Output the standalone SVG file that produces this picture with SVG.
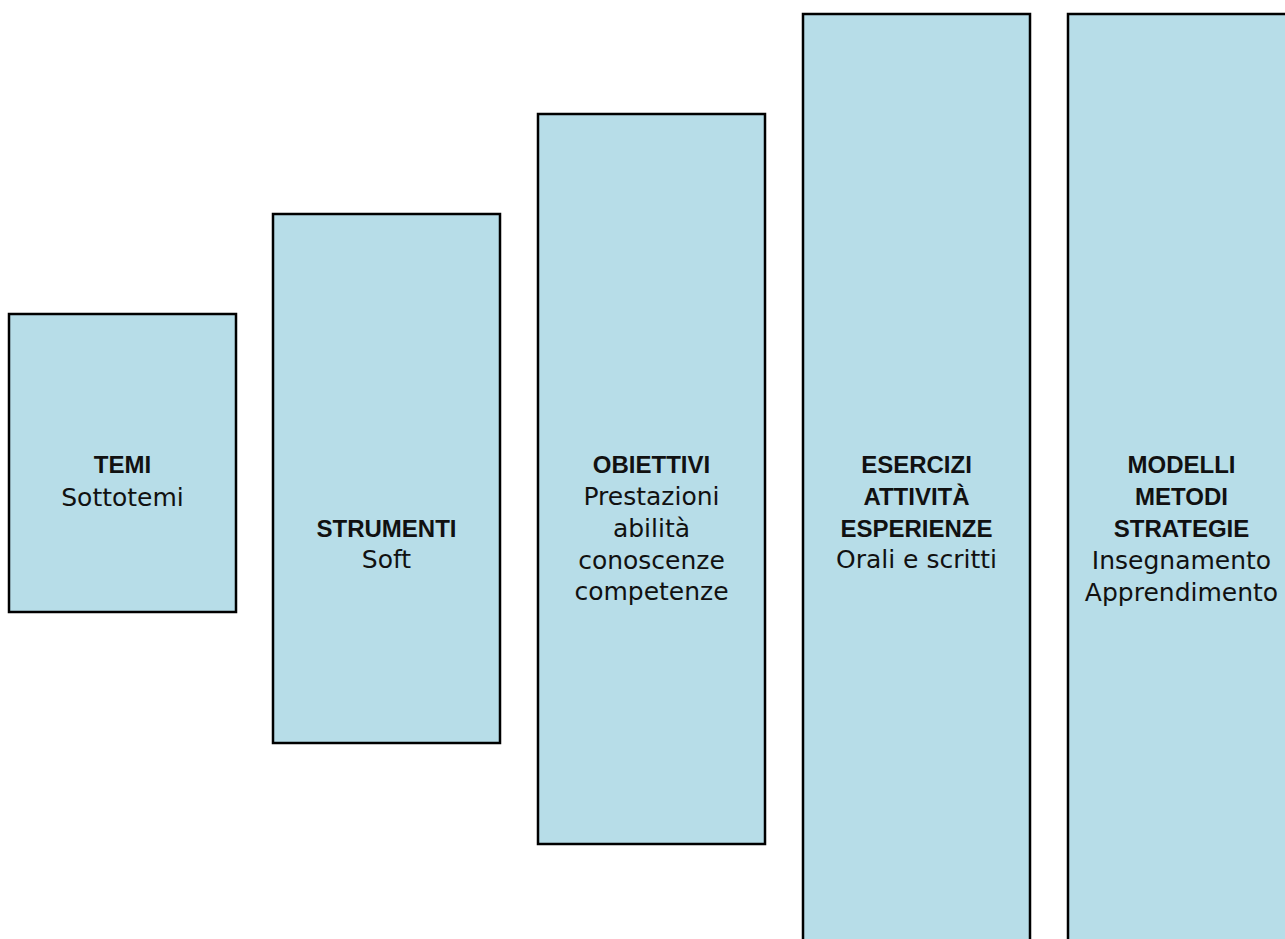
<svg xmlns="http://www.w3.org/2000/svg" width="1285" height="939" viewBox="0 0 1285 939">
<style>
.box{fill:#b7dde8;stroke:#000;stroke-width:2.5}
.b{font-family:"Liberation Sans",Arial,sans-serif;font-weight:bold;font-size:24px;fill:#111;text-anchor:middle}
.r{font-family:"DejaVu Sans",sans-serif;font-size:25px;fill:#111;text-anchor:middle}
</style>
<rect width="1285" height="939" fill="#fff"/>
<g id="connectors"></g>
<g id="temi">
<rect class="box" x="9" y="314" width="227" height="298"/>
<text class="b" x="122.5" y="473">TEMI</text>
<text class="r" x="122.5" y="506">Sottotemi</text>
</g>
<g id="strumenti">
<rect class="box" x="273" y="214" width="227" height="529"/>
<text class="b" x="386.5" y="537">STRUMENTI</text>
<text class="r" x="386.5" y="568">Soft</text>
</g>
<g id="obiettivi">
<rect class="box" x="538" y="114" width="227" height="730"/>
<text class="b" x="651.5" y="473">OBIETTIVI</text>
<text class="r" x="651.5" y="505">Prestazioni</text>
<text class="r" x="651.5" y="537">abilità</text>
<text class="r" x="651.5" y="568.5">conoscenze</text>
<text class="r" x="651.5" y="600">competenze</text>
</g>
<g id="esercizi">
<rect class="box" x="803" y="14" width="227" height="940"/>
<text class="b" x="916.5" y="473">ESERCIZI</text>
<text class="b" x="916.5" y="505">ATTIVITÀ</text>
<text class="b" x="916.5" y="537">ESPERIENZE</text>
<text class="r" x="916.5" y="568">Orali e scritti</text>
</g>
<g id="modelli">
<rect class="box" x="1068" y="14" width="227" height="940"/>
<text class="b" x="1181.5" y="473">MODELLI</text>
<text class="b" x="1181.5" y="505">METODI</text>
<text class="b" x="1181.5" y="537">STRATEGIE</text>
<text class="r" x="1181.5" y="569">Insegnamento</text>
<text class="r" x="1181.5" y="601">Apprendimento</text>
</g>
</svg>
